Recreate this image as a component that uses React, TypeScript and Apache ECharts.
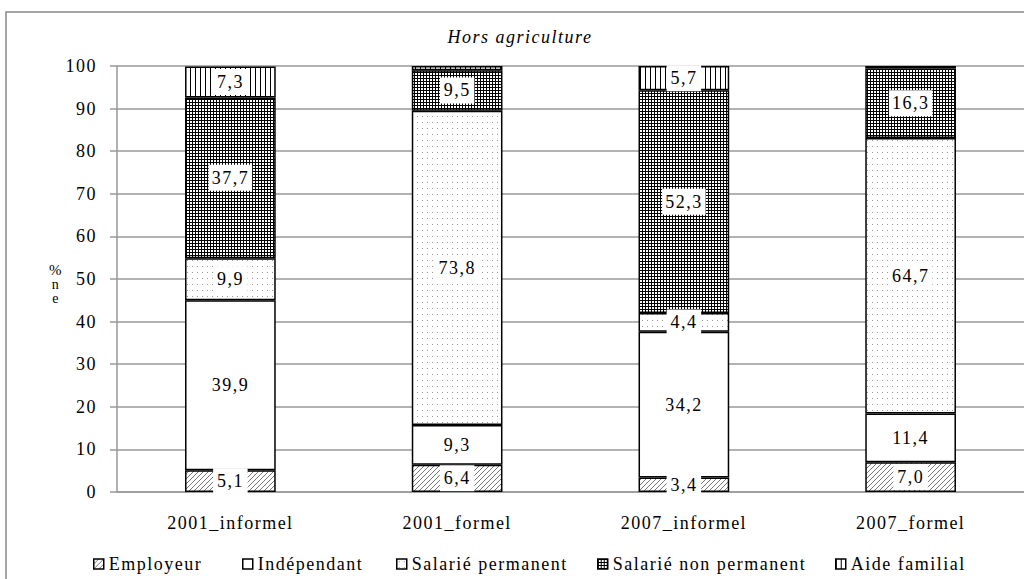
import React, { useEffect, useRef } from 'react';
import * as echarts from 'echarts';

const categories = ['2001_informel', '2001_formel', '2007_informel', '2007_formel'];
const seriesNames = ['Employeur', 'Indépendant', 'Salarié permanent', 'Salarié non permanent', 'Aide familial'];
const employeur = [5.1, 6.4, 3.4, 7.0];
const independant = [39.9, 9.3, 34.2, 11.4];
const salariePermanent = [9.9, 73.8, 4.4, 64.7];
const salarieNonPermanent = [37.7, 9.5, 52.3, 16.3];
const aideFamilial = [7.3, 1.0, 5.7, 0.6];
const aideLabelShown = [true, false, true, false];
const title = 'Hors agriculture';
const yMin = 0;
const yMax = 100;
const yStep = 10;

const FONT = "'Liberation Serif', 'Times New Roman', serif";

function tile(w: number, h: number, draw: (ctx: CanvasRenderingContext2D) => void) {
  const c = document.createElement('canvas');
  c.width = w;
  c.height = h;
  const ctx = c.getContext('2d')!;
  ctx.fillStyle = '#fff';
  ctx.fillRect(0, 0, w, h);
  draw(ctx);
  return { image: c.toDataURL(), repeat: 'repeat', imageWidth: w, imageHeight: h } as any;
}

export default function App() {
  const ref = useRef<HTMLDivElement>(null);
  useEffect(() => {
    document.body.style.margin = '0';
    const chart = echarts.init(ref.current!, null, { renderer: 'svg' });

    const hatch = tile(5, 5, (ctx) => {
      ctx.strokeStyle = '#777';
      ctx.lineWidth = 1;
      ctx.beginPath();
      ctx.moveTo(-1, 6); ctx.lineTo(6, -1);
      ctx.moveTo(-1, 1); ctx.lineTo(1, -1);
      ctx.moveTo(4, 6); ctx.lineTo(6, 4);
      ctx.stroke();
    });
    const dots = tile(5, 6, (ctx) => {
      ctx.fillStyle = '#999';
      ctx.fillRect(2, 2, 1, 1);
    });
    const grid = tile(3, 3, (ctx) => {
      ctx.fillStyle = '#000';
      ctx.fillRect(0, 0, 1, 3);
      ctx.fillRect(0, 0, 3, 1);
    });
    const vlines = tile(5, 2, (ctx) => {
      ctx.fillStyle = '#000';
      ctx.fillRect(0, 0, 1, 2);
    });

    const fmt = (p: any) => Number(p.value).toFixed(1).replace('.', ',');
    const label = {
      show: true,
      position: 'inside',
      formatter: fmt,
      color: '#000',
      fontFamily: FONT,
      fontSize: 18,
      backgroundColor: '#fff',
      padding: [5, 6, 3, 6],
    };
    const mk = (name: string, data: number[], color: any, shown?: boolean[]) => ({
      name,
      type: 'bar',
      stack: 'total',
      barWidth: '40%',
      itemStyle: { color, borderColor: '#000', borderWidth: 1.5 },
      label,
      data: data.map((v, i) => (shown && !shown[i] ? { value: v, label: { show: false } } : v)),
    });

    const legendLefts = [88, 237, 391, 592, 830];
    const legends = seriesNames.map((n, i) => ({
      data: [n],
      left: legendLefts[i],
      top: 550,
      orient: 'horizontal',
      itemWidth: 10,
      itemHeight: 10,
      icon: 'rect',
      itemStyle: { borderColor: '#000', borderWidth: 1.5 },
      textStyle: { fontFamily: FONT, fontSize: 18, color: '#000' },
      selectedMode: false,
    }));

    chart.setOption({
      animation: false,
      backgroundColor: '#fff',
      title: {
        text: title,
        left: 515,
        top: 23,
        textAlign: 'center',
        textStyle: { fontFamily: FONT, fontSize: 18, fontStyle: 'italic', fontWeight: 'normal', color: '#000' },
      },
      legend: legends,
      grid: { left: 117, top: 66, width: 908, height: 426, containLabel: false },
      xAxis: {
        type: 'category',
        data: categories,
        axisLine: { lineStyle: { color: '#999', width: 1.5 } },
        axisTick: { show: false },
        axisLabel: { fontFamily: FONT, fontSize: 18, color: '#000', margin: 22 },
      },
      yAxis: {
        type: 'value',
        min: yMin,
        max: yMax,
        interval: yStep,
        axisLine: { show: true, lineStyle: { color: '#999', width: 1.5 } },
        axisTick: { show: true, length: 7, lineStyle: { color: '#999', width: 1.5 } },
        splitLine: { lineStyle: { color: '#999', width: 1.5 } },
        axisLabel: { fontFamily: FONT, fontSize: 18, color: '#000', margin: 20 },
      },
      graphic: [
        { type: 'rect', shape: { x: 6, y: 12, width: 1030, height: 600 }, style: { fill: 'none', stroke: '#888', lineWidth: 1.5 }, silent: true },
        { type: 'text', x: 56, y: 262, style: { text: '%', font: `15px ${FONT}`, fill: '#000', align: 'center' } },
        { type: 'text', x: 56, y: 277, style: { text: 'n', font: `14px ${FONT}`, fill: '#000', align: 'center' } },
        { type: 'text', x: 56, y: 291, style: { text: 'e', font: `14px ${FONT}`, fill: '#000', align: 'center' } },
      ],
      series: [
        mk(seriesNames[0], employeur, hatch),
        mk(seriesNames[1], independant, '#fff'),
        mk(seriesNames[2], salariePermanent, dots),
        mk(seriesNames[3], salarieNonPermanent, grid),
        mk(seriesNames[4], aideFamilial, vlines, aideLabelShown),
      ],
    });
    return () => chart.dispose();
  }, []);
  return (
    <>
      <style>{'#chartbox text { letter-spacing: 1.5px; }'}</style>
      <div id="chartbox" ref={ref} style={{ width: 1024, height: 579 }} />
    </>
  );
}
